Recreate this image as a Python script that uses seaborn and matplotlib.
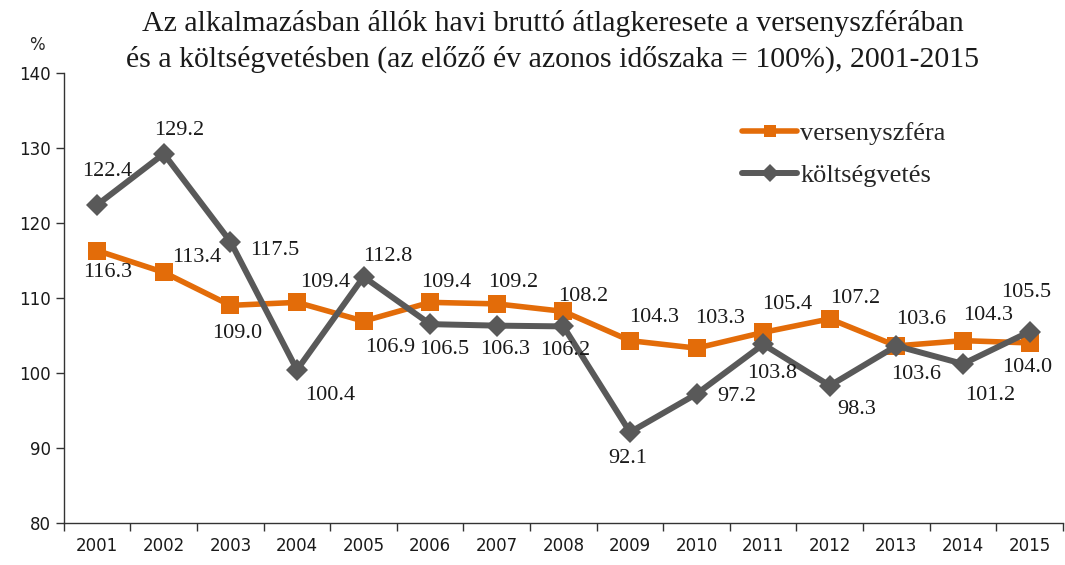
import numpy as np
import pandas as pd
import seaborn as sns
import matplotlib.pyplot as plt
from matplotlib.ticker import FixedLocator

years = ['2001', '2002', '2003', '2004', '2005', '2006', '2007', '2008',
         '2009', '2010', '2011', '2012', '2013', '2014', '2015']
verseny = [116.3, 113.4, 109.0, 109.4, 106.9, 109.4, 109.2, 108.2,
           104.3, 103.3, 105.4, 107.2, 103.6, 104.3, 104.0]
koltseg = [122.4, 129.2, 117.5, 100.4, 112.8, 106.5, 106.3, 106.2,
           92.1, 97.2, 103.8, 98.3, 103.6, 101.2, 105.5]

# label offsets in pixels (dx, dy; dy positive = down)
verseny_off = [(10, 22), (33, -15), (7, 28), (28, -20), (27, 26), (16, -20), (16, -21),
               (20, -15), (24, -23), (23, -30), (24, -28), (25, -20), (25, -26),
               (25, -25), (-2, 25)]
koltseg_off = [(10, -33), (15, -23), (44, 9), (33, 26), (24, -20), (14, 25), (8, 24),
               (2, 24), (-2, 26), (40, 3), (9, 29), (27, 24), (20, 29), (27, 32),
               (-3, -39)]

orange = '#E36C09'
grey = '#595959'
serif = ['Liberation Serif', 'DejaVu Serif']

sns.set_style('white')
plt.rcParams['font.family'] = ['DejaVu Sans']

df = pd.DataFrame({'x': np.arange(len(years)), 'verseny': verseny, 'koltseg': koltseg})

fig = plt.figure(figsize=(10.65, 5.65), dpi=100)
ax = fig.add_axes([0.060, 0.0743, 0.938, 0.797])

sns.lineplot(data=df, x='x', y='verseny', ax=ax, color=orange, marker='s', markersize=13,
             markeredgewidth=0, linewidth=4, label='versenyszféra')
sns.lineplot(data=df, x='x', y='koltseg', ax=ax, color=grey, marker='D', markersize=11,
             markeredgewidth=0, linewidth=4.3, label='költségvetés')

for i in range(len(years)):
    ax.annotate(f'{verseny[i]:.1f}', (i, verseny[i]), xytext=(verseny_off[i][0], -verseny_off[i][1]),
                textcoords='offset pixels', ha='center', va='center', fontsize=16,
                family=serif, color='#1a1a1a')
    ax.annotate(f'{koltseg[i]:.1f}', (i, koltseg[i]), xytext=(koltseg_off[i][0], -koltseg_off[i][1]),
                textcoords='offset pixels', ha='center', va='center', fontsize=16,
                family=serif, color='#1a1a1a')

ax.set_xlim(-0.5, len(years) - 0.5)
ax.set_ylim(80, 140)
ax.set_yticks(range(80, 141, 10))
ax.xaxis.set_major_locator(FixedLocator(np.arange(-0.5, len(years), 1.0)))
ax.set_xticklabels([])
ax.xaxis.set_minor_locator(FixedLocator(np.arange(len(years))))
ax.set_xticklabels(years, minor=True)
ax.tick_params(axis='x', which='major', length=6, width=1, color='#333333', direction='out', bottom=True)
ax.tick_params(axis='x', which='minor', length=0, pad=10, labelsize=12, colors='#1a1a1a')
ax.tick_params(axis='y', length=6, width=1, color='#333333', direction='out', left=True,
               labelsize=12, colors='#1a1a1a')
for s in ['top', 'right']:
    ax.spines[s].set_visible(False)
for s in ['left', 'bottom']:
    ax.spines[s].set_color('#333333')
    ax.spines[s].set_linewidth(1)
ax.set_xlabel('')
ax.set_ylabel('')

leg = ax.legend(loc='upper left', bbox_to_anchor=(742 / 1065, 1 - 122 / 565),
                bbox_transform=fig.transFigure, frameon=False, borderpad=0, borderaxespad=0,
                prop={'family': serif, 'size': 19}, handlelength=2.1, handletextpad=0.1,
                labelspacing=0.7)
for h in leg.legend_handles:
    h.set_markersize(9)

fig.text(0.035, 0.92, '%', fontsize=12, ha='center', va='center')
fig.text(0.519, 0.927, 'Az alkalmazásban állók havi bruttó átlagkeresete a versenyszférában\n'
         'és a költségvetésben (az előző év azonos időszaka = 100%), 2001-2015',
         ha='center', va='center', fontsize=21.5, family=serif, linespacing=1.4, color='#1a1a1a')

fig.savefig('out.png', dpi=100)
